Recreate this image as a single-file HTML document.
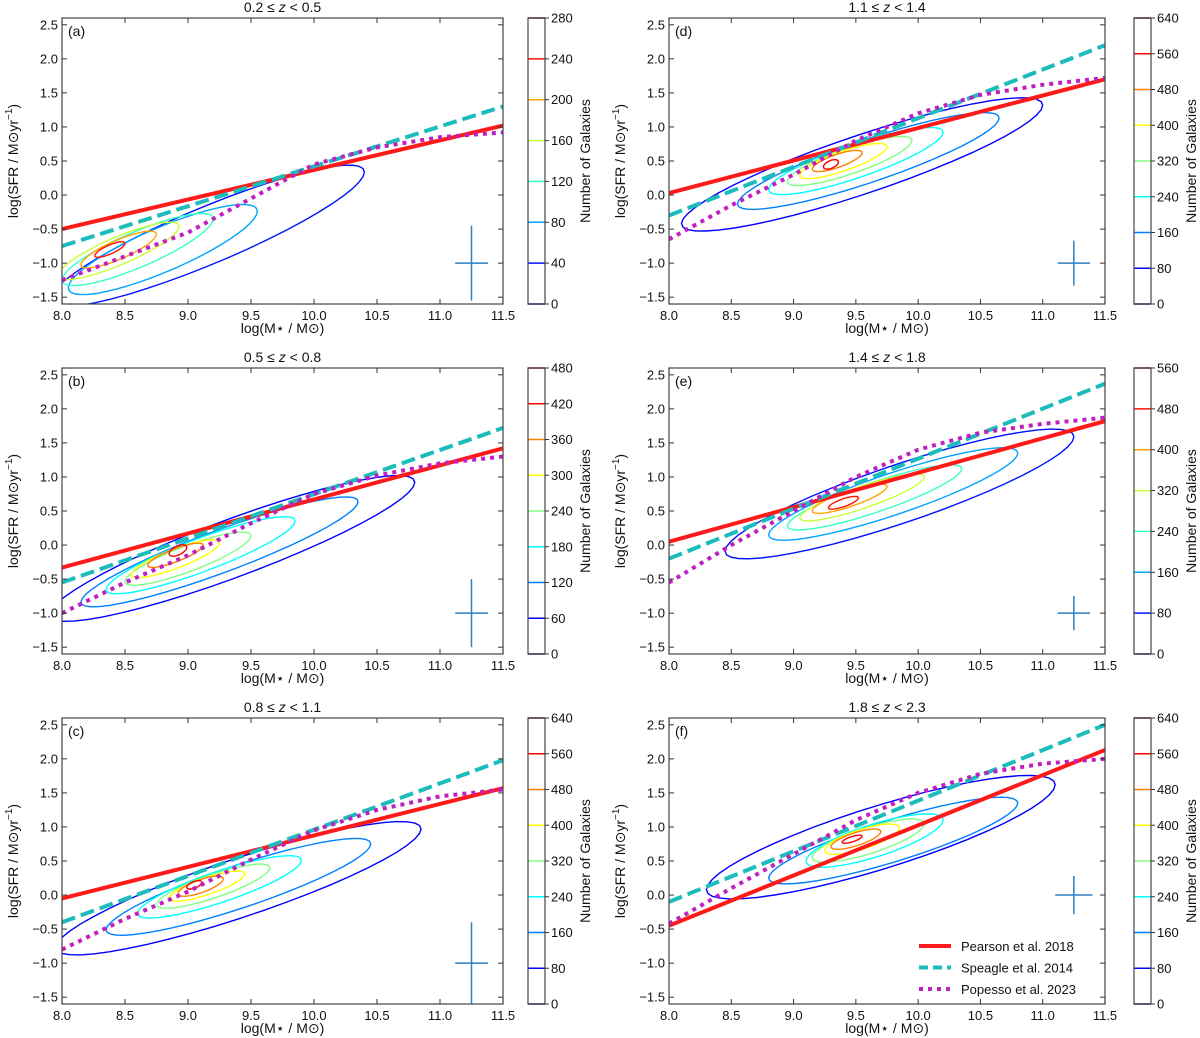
<!DOCTYPE html>
<html><head><meta charset="utf-8"><style>
html,body{margin:0;padding:0;background:#fff;}
svg{display:block;font-family:"Liberation Sans","DejaVu Sans",sans-serif;}
</style></head><body>
<svg id="fig" width="1200" height="1038" viewBox="0 0 1200 1038" xmlns="http://www.w3.org/2000/svg"></svg>
<script>
const panelLetters=['a','b','c','d','e','f'];
const panelTitles=['0.2 ≤ z < 0.5','0.5 ≤ z < 0.8','0.8 ≤ z < 1.1','1.1 ≤ z < 1.4','1.4 ≤ z < 1.8','1.8 ≤ z < 2.3'];
const xTicks=[8.0,8.5,9.0,9.5,10.0,10.5,11.0,11.5];
const yTicks=[-1.5,-1.0,-0.5,0.0,0.5,1.0,1.5,2.0,2.5];
const cbarTicks=[[0,40,80,120,160,200,240,280],[0,60,120,180,240,300,360,420,480],[0,80,160,240,320,400,480,560,640],[0,80,160,240,320,400,480,560,640],[0,80,160,240,320,400,480,560],[0,80,160,240,320,400,480,560,640]];
const pearson=[[-0.5,1.02],[-0.33,1.42],[-0.05,1.57],[0.03,1.7],[0.05,1.82],[-0.45,2.13]];
const speagle=[[-0.75,1.3],[-0.55,1.72],[-0.4,1.98],[-0.3,2.2],[-0.2,2.37],[-0.1,2.5]];
const popessoX=[8,8.5,9,9.5,10,10.5,11,11.5];
const popesso=[[-1.25,-0.9,-0.55,-0.05,0.45,0.7,0.85,0.92],[-1.0,-0.55,-0.15,0.32,0.75,1.02,1.2,1.3],[-0.8,-0.35,0.05,0.52,0.95,1.25,1.45,1.55],[-0.65,-0.15,0.3,0.8,1.2,1.47,1.62,1.72],[-0.55,0.0,0.5,1.0,1.4,1.65,1.78,1.87],[-0.42,0.1,0.6,1.1,1.5,1.78,1.93,2.0]];
const errCross=[[11.25,-1.0,0.55,0.13],[11.25,-1.0,0.5,0.13],[11.25,-1.0,0.6,0.13],[11.25,-1.0,0.33,0.13],[11.25,-1.0,0.25,0.13],[11.25,0.0,0.28,0.15]];
const contourSlope=[0.75,0.67,0.6,0.6,0.6,0.55];
const contours=[
 [[9.15,-0.6,1.25,0.45],[8.8,-0.8,0.75,0.35],[8.6,-0.8,0.6,0.28],[8.45,-0.82,0.48,0.22],[8.45,-0.8,0.3,0.15],[8.38,-0.8,0.12,0.07]],
 [[9.35,-0.05,1.45,0.45],[9.25,-0.1,1.1,0.33],[9.1,-0.15,0.75,0.26],[9.0,-0.2,0.5,0.2],[8.9,-0.2,0.35,0.15],[8.9,-0.15,0.22,0.1],[8.92,-0.08,0.07,0.07]],
 [[9.4,0.1,1.45,0.45],[9.4,0.12,1.05,0.33],[9.25,0.12,0.65,0.24],[9.2,0.13,0.45,0.18],[9.15,0.13,0.3,0.13],[9.1,0.13,0.18,0.1],[9.05,0.15,0.06,0.05]],
 [[9.55,0.45,1.45,0.45],[9.6,0.5,1.05,0.33],[9.5,0.5,0.7,0.26],[9.45,0.5,0.5,0.2],[9.4,0.5,0.35,0.15],[9.35,0.5,0.2,0.1],[9.3,0.45,0.06,0.06]],
 [[9.85,0.75,1.4,0.45],[9.8,0.75,1.0,0.32],[9.65,0.7,0.7,0.23],[9.55,0.7,0.5,0.17],[9.45,0.68,0.3,0.12],[9.4,0.62,0.12,0.06]],
 [[9.7,0.85,1.4,0.48],[9.8,0.8,1.0,0.32],[9.65,0.8,0.55,0.25],[9.6,0.8,0.45,0.2],[9.55,0.82,0.3,0.15],[9.5,0.82,0.2,0.1],[9.47,0.82,0.08,0.04]]
];
const legendLabels=['Pearson et al. 2018','Speagle et al. 2014','Popesso et al. 2023'];

const NS='http://www.w3.org/2000/svg';
const svg=document.getElementById('fig');
function mk(tag,attrs,parent){const e=document.createElementNS(NS,tag);for(const k in attrs)e.setAttribute(k,attrs[k]);(parent||svg).appendChild(e);return e;}
function jet(f){
  const c=v=>Math.max(0,Math.min(1,v));
  const r=c(1.5-Math.abs(4*f-3)),g=c(1.5-Math.abs(4*f-2)),b=c(1.5-Math.abs(4*f-1));
  return `rgb(${Math.round(r*255)},${Math.round(g*255)},${Math.round(b*255)})`;
}
const cols=[{x0:62,x1:503,cb:528,ylab:14},{x0:669,x1:1105,cb:1134,ylab:621}];
const rows=[{y0:18,y1:304},{y0:368,y1:654},{y0:718,y1:1004}];
for(let p=0;p<6;p++){
  const col=cols[Math.floor(p/3)],row=rows[p%3];
  const X=v=>col.x0+(v-8)/3.5*(col.x1-col.x0);
  const Y=v=>row.y1-(v+1.6)/4.2*(row.y1-row.y0);
  const g=mk('g',{});
  
  
  const cid='clip'+p;
  const cp=mk('clipPath',{id:cid},g);mk('rect',{x:col.x0,y:row.y0,width:col.x1-col.x0,height:row.y1-row.y0},cp);
  const plot=mk('g',{'clip-path':`url(#${cid})`},g);
  const lv=cbarTicks[p];const maxv=lv[lv.length-1];
  contours[p].forEach((c,i)=>{
    const pts=[];
    for(let k=0;k<48;k++){const t=k/48*2*Math.PI;const dx=c[2]*Math.cos(t);const xx=c[0]+dx;const yy=c[1]+contourSlope[p]*dx+c[3]*Math.sin(t);pts.push(X(xx).toFixed(1)+','+Y(yy).toFixed(1));}
    const el=mk('polygon',{points:pts.join(' '),fill:'none',stroke:jet(lv[i+1]/maxv),'stroke-width':1.4},plot);
    
    
  });
  const pe=mk('line',{x1:X(8),y1:Y(pearson[p][0]),x2:X(11.5),y2:Y(pearson[p][1]),stroke:'#ff1a1a','stroke-width':4},plot);
  
  const sp=mk('line',{x1:X(8),y1:Y(speagle[p][0]),x2:X(11.5),y2:Y(speagle[p][1]),stroke:'#1cbcbc','stroke-width':4,'stroke-dasharray':'14,6'},plot);
  
  const pp=mk('polyline',{points:popessoX.map((x,i)=>X(x)+','+Y(popesso[p][i])).join(' '),fill:'none',stroke:'#c020c0','stroke-width':4,'stroke-dasharray':'4,5'},plot);
  
  const e=errCross[p];
  const ec=mk('g',{stroke:'#2f7fbf','stroke-width':1.5},plot);
  
  mk('line',{x1:X(e[0]),x2:X(e[0]),y1:Y(e[1]-e[2]),y2:Y(e[1]+e[2])},ec);
  mk('line',{x1:X(e[0]-e[3]),x2:X(e[0]+e[3]),y1:Y(e[1]),y2:Y(e[1])},ec);
  const fr=mk('rect',{x:col.x0,y:row.y0,width:col.x1-col.x0,height:row.y1-row.y0,fill:'none',stroke:'#444','stroke-width':1.2},g);
  
  xTicks.forEach(t=>{const x=X(t);
    mk('line',{x1:x,x2:x,y1:row.y1,y2:row.y1-5,stroke:'#333'},g);
    mk('line',{x1:x,x2:x,y1:row.y0,y2:row.y0+5,stroke:'#333'},g);
    const tx=mk('text',{x:x,y:row.y1+16,'text-anchor':'middle','font-size':13,fill:'#111'},g);tx.textContent=t.toFixed(1);
    });
  yTicks.forEach(t=>{const y=Y(t);
    mk('line',{x1:col.x0,x2:col.x0+5,y1:y,y2:y,stroke:'#333'},g);
    mk('line',{x1:col.x1,x2:col.x1-5,y1:y,y2:y,stroke:'#333'},g);
    const tx=mk('text',{x:col.x0-4,y:y+4.5,'text-anchor':'end','font-size':13,fill:'#111'},g);tx.textContent=(t<0?'−':'')+Math.abs(t).toFixed(1);
    });
  const pl=mk('text',{x:col.x0+6,y:row.y0+18,'font-size':14,fill:'#111'},g);pl.textContent='('+panelLetters[p]+')';
  
  const ti=mk('text',{x:(col.x0+col.x1)/2,y:row.y0-6,'text-anchor':'middle','font-size':14,fill:'#111'},g);
  const parts=panelTitles[p].split('z');
  const t1=mk('tspan',{},ti);t1.textContent=parts[0];const t2=mk('tspan',{'font-style':'italic'},ti);t2.textContent='z';const t3=mk('tspan',{},ti);t3.textContent=parts[1];
  
  const xl=mk('text',{x:(col.x0+col.x1)/2,y:row.y1+29,'text-anchor':'middle','font-size':14,fill:'#111'},g);xl.textContent='log(M⋆ / M⊙)';
  
  const yc=(row.y0+row.y1)/2;
  const yl=mk('text',{x:col.ylab,y:yc,'text-anchor':'middle','font-size':14,fill:'#111',transform:`rotate(-90 ${col.ylab} ${yc})`,dy:4},g);
  yl.textContent='log(SFR / M⊙yr';const sup=mk('tspan',{'font-size':10,dy:-6},yl);sup.textContent='−1';const cl=mk('tspan',{dy:6},yl);cl.textContent=')';
  
  const cb=mk('g',{},g);
  const cw=17;
  const CY=v=>row.y1-v/maxv*(row.y1-row.y0);
  lv.forEach((v,i)=>{const y=CY(v);
    mk('line',{x1:col.cb,x2:col.cb+cw,y1:y,y2:y,stroke:i==0?'#000080':(i==lv.length-1?'#800000':jet(v/maxv)),'stroke-width':1.5},cb);
    mk('line',{x1:col.cb+cw,x2:col.cb+cw+4,y1:y,y2:y,stroke:'#333'},cb);
    const tx=mk('text',{x:col.cb+cw+6,y:y+4.5,'font-size':13,fill:'#111'},cb);tx.textContent=v;
    });
  mk('rect',{x:col.cb,y:row.y0,width:cw,height:row.y1-row.y0,fill:'none',stroke:'#444','stroke-width':1.2},cb);
  const lx=col.cb+62;
  const cbl=mk('text',{x:lx,y:yc,'text-anchor':'middle','font-size':14,fill:'#111',transform:`rotate(-90 ${lx} ${yc})`},cb);cbl.textContent='Number of Galaxies';
  
  if(p===5){
    const lg=mk('g',{},g);
    const styles=[{stroke:'#ff1a1a'},{stroke:'#1cbcbc','stroke-dasharray':'9,5'},{stroke:'#c020c0','stroke-dasharray':'4,5'}];
    legendLabels.forEach((lab,i)=>{const y=946+i*21.5;
      const it=mk('g',{},lg);
      mk('line',Object.assign({x1:919,x2:951,y1:y,y2:y,'stroke-width':4},styles[i]),it);
      const tx=mk('text',{x:961,y:y+5,'font-size':13,fill:'#111'},it);tx.textContent=lab;});
  }
}
</script>
</body></html>
